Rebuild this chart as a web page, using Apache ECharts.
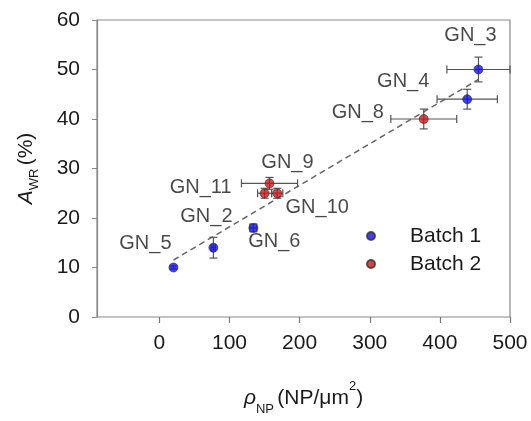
<!DOCTYPE html>
<html><head><meta charset="utf-8">
<script src="https://cdn.jsdelivr.net/npm/echarts@6/dist/echarts.min.js"></script>
<style>html,body{margin:0;padding:0;background:#fff}#c{width:531px;height:421px}</style>
</head><body><div id="c"></div>
<script>
// ---- data ----
const batch1Names = ['GN_3', 'GN_4', 'GN_2', 'GN_5', 'GN_6'];
const batch1X = [455, 439, 77, 20, 134];
const batch1Y = [50, 44, 14, 10, 18];
const batch1XErr = [45, 43, 3, 0, 5];
const batch1YErr = [2.5, 2, 2.1, 0.3, 0.8];

const batch2Names = ['GN_8', 'GN_9', 'GN_11', 'GN_10'];
const batch2X = [377, 157, 150, 168];
const batch2Y = [40, 27, 25, 25];
const batch2XErr = [47, 40, 10, 8];
const batch2YErr = [2, 1.2, 1, 1];

const trendX = [20, 455];
const trendY = [11.5, 48];

const xTicks = [0, 100, 200, 300, 400, 500];
const yTicks = [0, 10, 20, 30, 40, 50, 60];
const seriesNames = ['Batch 1', 'Batch 2'];

// ---- label placement (px offsets, not data) ----
const labelOffset = {
  'GN_3': [-8, -34], 'GN_4': [-64, -18], 'GN_8': [-66, -7],
  'GN_9': [18, -21], 'GN_11': [-64, -6], 'GN_10': [40, 14],
  'GN_2': [-7, -31], 'GN_5': [-28, -24], 'GN_6': [21, 14]
};

const FONT = '"Liberation Sans", Arial, sans-serif';
const TXT = '#1a1a1a';

function pts(names, xs, ys) {
  return names.map((n, i) => ({
    name: n, value: [xs[i], ys[i]],
    label: { offset: labelOffset[n] }
  }));
}
function errs(xs, ys, xe, ye) {
  return xs.map((x, i) => [x, ys[i], xe[i], ye[i]]);
}

function errRender(params, api) {
  const x = api.value(0), y = api.value(1), xe = api.value(2), ye = api.value(3);
  const c = api.coord([x, y]);
  const l = api.coord([x - xe, y]), r = api.coord([x + xe, y]);
  const t = api.coord([x, y + ye]), b = api.coord([x, y - ye]);
  const cap = 4;
  const st = { stroke: '#555', lineWidth: 1.2 };
  const ch = [];
  if (xe > 0) {
    ch.push({ type: 'line', shape: { x1: l[0], y1: c[1], x2: r[0], y2: c[1] }, style: st });
    ch.push({ type: 'line', shape: { x1: l[0], y1: c[1] - cap, x2: l[0], y2: c[1] + cap }, style: st });
    ch.push({ type: 'line', shape: { x1: r[0], y1: c[1] - cap, x2: r[0], y2: c[1] + cap }, style: st });
  }
  if (ye > 0) {
    ch.push({ type: 'line', shape: { x1: c[0], y1: t[1], x2: c[0], y2: b[1] }, style: st });
    ch.push({ type: 'line', shape: { x1: c[0] - cap, y1: t[1], x2: c[0] + cap, y2: t[1] }, style: st });
    ch.push({ type: 'line', shape: { x1: c[0] - cap, y1: b[1], x2: c[0] + cap, y2: b[1] }, style: st });
  }
  return { type: 'group', children: ch };
}

const ptLabel = {
  show: true, position: 'inside', formatter: '{b}',
  fontSize: 20, color: TXT, fontFamily: FONT, align: 'center', verticalAlign: 'middle'
};

const chart = echarts.init(document.getElementById('c'), null, { renderer: 'canvas' });
chart.setOption({
  animation: false,
  backgroundColor: '#fff',
  textStyle: { fontFamily: FONT },
  grid: { left: 97, right: 21, top: 20, bottom: 102, show: true, borderColor: '#888', borderWidth: 1.2 },
  legend: {
    data: seriesNames.map(n => ({ name: n, icon: 'circle' })),
    orient: 'vertical', left: 361, top: 220, itemWidth: 8, itemHeight: 8, itemGap: 6,
    textStyle: { fontSize: 21, color: TXT, fontFamily: FONT, padding: [0, 0, 0, 30], lineHeight: 22 }
  },
  xAxis: {
    type: 'value', min: -89, max: 500,
    axisLine: { show: false, onZero: false },
    axisTick: { show: true, inside: false, length: 6, customValues: xTicks, lineStyle: { color: '#777', width: 1.2 } },
    axisLabel: { customValues: xTicks, fontSize: 21, color: TXT, margin: 16, fontFamily: FONT },
    splitLine: { show: false },
    name: '{i|ρ}{sub|NP} {m|(NP/μm}{sup|2}{m|)}',
    nameLocation: 'middle', nameGap: 63,
    nameTextStyle: {
      rich: {
        i: { fontSize: 21, fontStyle: 'italic', color: TXT, fontFamily: FONT, verticalAlign: 'middle' },
        m: { fontSize: 21, color: TXT, fontFamily: FONT, verticalAlign: 'middle' },
        sub: { fontSize: 13, color: TXT, fontFamily: FONT, verticalAlign: 'bottom' },
        sup: { fontSize: 13, color: TXT, fontFamily: FONT, verticalAlign: 'top' }
      },
      lineHeight: 36
    }
  },
  yAxis: {
    type: 'value', min: 0, max: 60, interval: 10,
    axisLine: { show: true, onZero: false, lineStyle: { color: '#888', width: 1.2 } },
    axisTick: { show: true, length: 5, lineStyle: { color: '#888' } },
    axisLabel: { fontSize: 21, color: TXT, margin: 17, fontFamily: FONT },
    splitLine: { show: false },
    name: '{i|A}{sub|WR} {m|(%)}',
    nameLocation: 'middle', nameGap: 56, nameRotate: 90,
    nameTextStyle: {
      rich: {
        i: { fontSize: 21, fontStyle: 'italic', color: TXT, fontFamily: FONT, verticalAlign: 'middle' },
        m: { fontSize: 21, color: TXT, fontFamily: FONT, verticalAlign: 'middle' },
        sub: { fontSize: 13, color: TXT, fontFamily: FONT, verticalAlign: 'bottom' }
      },
      lineHeight: 30
    }
  },
  series: [
    {
      type: 'line', data: trendX.map((x, i) => [x, trendY[i]]), symbol: 'none',
      lineStyle: { color: '#666', width: 1.5, type: [6, 4] }, silent: true, z: 1
    },
    { type: 'custom', renderItem: errRender, data: errs(batch1X, batch1Y, batch1XErr, batch1YErr), z: 2, silent: true },
    { type: 'custom', renderItem: errRender, data: errs(batch2X, batch2Y, batch2XErr, batch2YErr), z: 2, silent: true },
    {
      name: seriesNames[0], type: 'scatter', data: pts(batch1Names, batch1X, batch1Y),
      symbolSize: 9, itemStyle: { color: '#1010ee', borderColor: '#333', borderWidth: 0.8 },
      label: ptLabel, z: 3
    },
    {
      name: seriesNames[1], type: 'scatter', data: pts(batch2Names, batch2X, batch2Y),
      symbolSize: 9, itemStyle: { color: '#d01515', borderColor: '#333', borderWidth: 0.8 },
      label: ptLabel, z: 3
    }
  ]
});
</script></body></html>
